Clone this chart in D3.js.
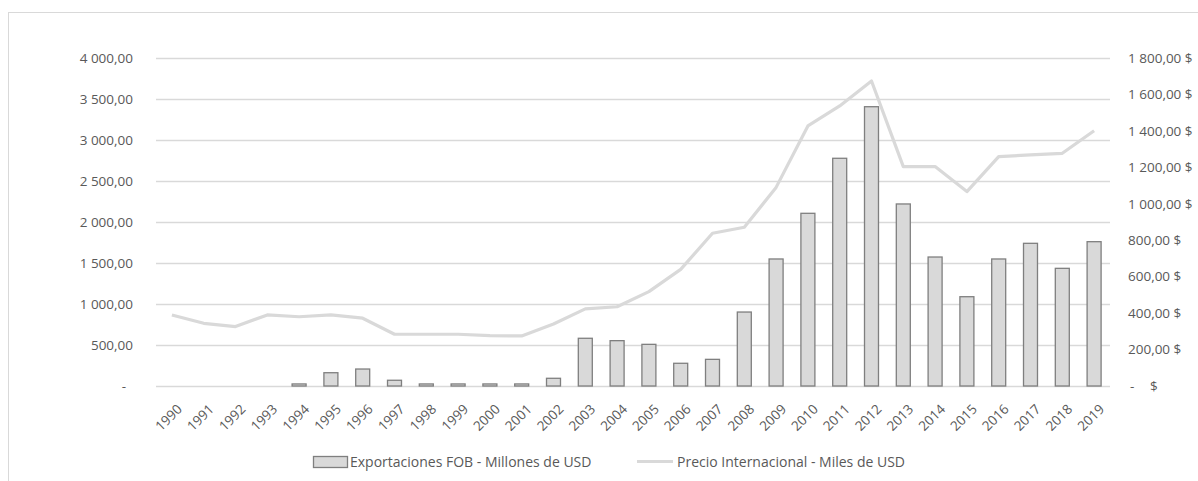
<!DOCTYPE html>
<html>
<head>
<meta charset="utf-8">
<script src="https://cdn.jsdelivr.net/npm/d3@7"></script>
<style>
  html, body { margin: 0; padding: 0; background: #ffffff; }
  svg { display: block; }
</style>
</head>
<body>
<div id="chart"></div>
<script>
// Data
const years = ["1990","1991","1992","1993","1994","1995","1996","1997","1998","1999",
               "2000","2001","2002","2003","2004","2005","2006","2007","2008","2009",
               "2010","2011","2012","2013","2014","2015","2016","2017","2018","2019"];
const exportaciones = [0, 0, 0, 0, 25, 162, 207, 70, 25, 25,
                       25, 25, 94, 582, 553, 508, 277, 325, 902, 1549,
                       2106, 2777, 3406, 2220, 1573, 1089, 1549, 1740, 1435, 1760];
const precio = [390, 344, 326, 390, 380, 390, 372, 284, 284, 284,
                276, 275, 340, 423, 435, 518, 640, 838, 871, 1090,
                1427, 1537, 1674, 1204, 1204, 1067, 1259, 1268, 1277, 1401];
const leftTicks = [0, 500, 1000, 1500, 2000, 2500, 3000, 3500, 4000];
const rightTicks = [0, 200, 400, 600, 800, 1000, 1200, 1400, 1600, 1800];
const legendLabels = ["Exportaciones FOB - Millones de USD", "Precio Internacional - Miles de USD"];

const width = 1198, height = 481;
const margin = { top: 58, left: 156, right: 88, bottom: 95 }; // plot 156..1110, 58..386
const innerW = width - margin.left - margin.right;
const innerH = height - margin.top - margin.bottom;

const fontFamily = "'Open Sans', 'Noto Sans', sans-serif";
const textColor = "#595959";
const gridColor = "#d9d9d9";

const svg = d3.select("#chart").append("svg")
  .attr("width", width)
  .attr("height", height);

// chart frame (cut off on the right and bottom like the original)
svg.append("rect")
  .attr("x", 8.5).attr("y", 12.5)
  .attr("width", width + 20).attr("height", height + 20)
  .attr("fill", "none")
  .attr("stroke", gridColor)
  .attr("stroke-width", 1);

const g = svg.append("g").attr("transform", `translate(${margin.left},${margin.top})`);

const x = d3.scaleBand().domain(years).range([0, innerW]).paddingInner(0.56).paddingOuter(0.28);
const yL = d3.scaleLinear().domain([0, 4000]).range([innerH, 0]);
const yR = d3.scaleLinear().domain([0, 1800]).range([innerH, 0]);

const fmtNum = v => {
  const s = d3.format(",.2f")(v);
  return s.replace(/,/g, " ").replace(".", ",");
};

// gridlines
g.append("g")
  .selectAll("line")
  .data(leftTicks)
  .join("line")
  .attr("x1", 0).attr("x2", innerW)
  .attr("y1", d => Math.round(yL(d)) + 0.5)
  .attr("y2", d => Math.round(yL(d)) + 0.5)
  .attr("stroke", gridColor)
  .attr("stroke-width", 1.3);

// left axis
const leftAxis = d3.axisLeft(yL)
  .tickValues(leftTicks)
  .tickSize(0)
  .tickPadding(23)
  .tickFormat(d => d === 0 ? "-" : fmtNum(d));
const gl = g.append("g").call(leftAxis);
gl.select(".domain").remove();
gl.selectAll("text")
  .attr("dx", d => d === 0 ? -7 : 0)
  .style("font-family", fontFamily)
  .style("font-size", "13.5px")
  .style("fill", textColor);

// right axis
const rightAxis = d3.axisRight(yR)
  .tickValues(rightTicks)
  .tickSize(0)
  .tickPadding(18)
  .tickFormat(d => d === 0 ? "-" : fmtNum(d) + " $");
const gr = g.append("g").attr("transform", `translate(${innerW},0)`).call(rightAxis);
gr.select(".domain").remove();
gr.selectAll("text")
  .attr("dx", d => d === 0 ? 2 : 0)
  .style("font-family", fontFamily)
  .style("font-size", "13.5px")
  .style("fill", textColor);
gr.selectAll(".tick").filter(d => d === 0).append("text")
  .attr("x", 40).attr("dy", "0.32em")
  .style("font-family", fontFamily)
  .style("font-size", "13.5px")
  .style("fill", textColor)
  .text("$");

// bottom axis with rotated year labels
const bottomAxis = d3.axisBottom(x).tickSize(0).tickPadding(0);
const gb = g.append("g").attr("transform", `translate(0,${innerH})`).call(bottomAxis);
gb.select(".domain").remove();
gb.selectAll("text")
  .attr("text-anchor", "end")
  .attr("y", 0)
  .attr("dy", 0)
  .attr("transform", "translate(11,24) rotate(-45)")
  .style("font-family", fontFamily)
  .style("font-size", "13.5px")
  .style("fill", textColor);

// bars
g.append("g")
  .selectAll("rect")
  .data(years.map((yr, i) => ({ yr, v: exportaciones[i] })).filter(d => d.v > 0))
  .join("rect")
  .attr("x", d => x(d.yr))
  .attr("y", d => yL(d.v))
  .attr("width", x.bandwidth())
  .attr("height", d => innerH - yL(d.v))
  .attr("fill", "#d9d9d9")
  .attr("stroke", "#7f7f7f")
  .attr("stroke-width", 1.3);

// line
const line = d3.line()
  .x((d, i) => x(years[i]) + x.bandwidth() / 2)
  .y(d => yR(d));
g.append("path")
  .datum(precio)
  .attr("d", line)
  .attr("fill", "none")
  .attr("stroke", "#d9d9d9")
  .attr("stroke-width", 3.2)
  .attr("stroke-linejoin", "round");

// legend
const lg = svg.append("g");
lg.append("rect")
  .attr("x", 313.5).attr("y", 456.5)
  .attr("width", 34).attr("height", 11)
  .attr("fill", "#d9d9d9")
  .attr("stroke", "#7f7f7f")
  .attr("stroke-width", 1.3);
lg.append("text")
  .attr("x", 350).attr("y", 467)
  .style("font-family", fontFamily)
  .style("font-size", "14px")
  .style("fill", textColor)
  .text(legendLabels[0]);
lg.append("line")
  .attr("x1", 637).attr("x2", 673)
  .attr("y1", 461.5).attr("y2", 461.5)
  .attr("stroke", "#d9d9d9")
  .attr("stroke-width", 3.2);
lg.append("text")
  .attr("x", 677).attr("y", 467)
  .style("font-family", fontFamily)
  .style("font-size", "14px")
  .style("fill", textColor)
  .text(legendLabels[1]);
</script>
</body>
</html>
